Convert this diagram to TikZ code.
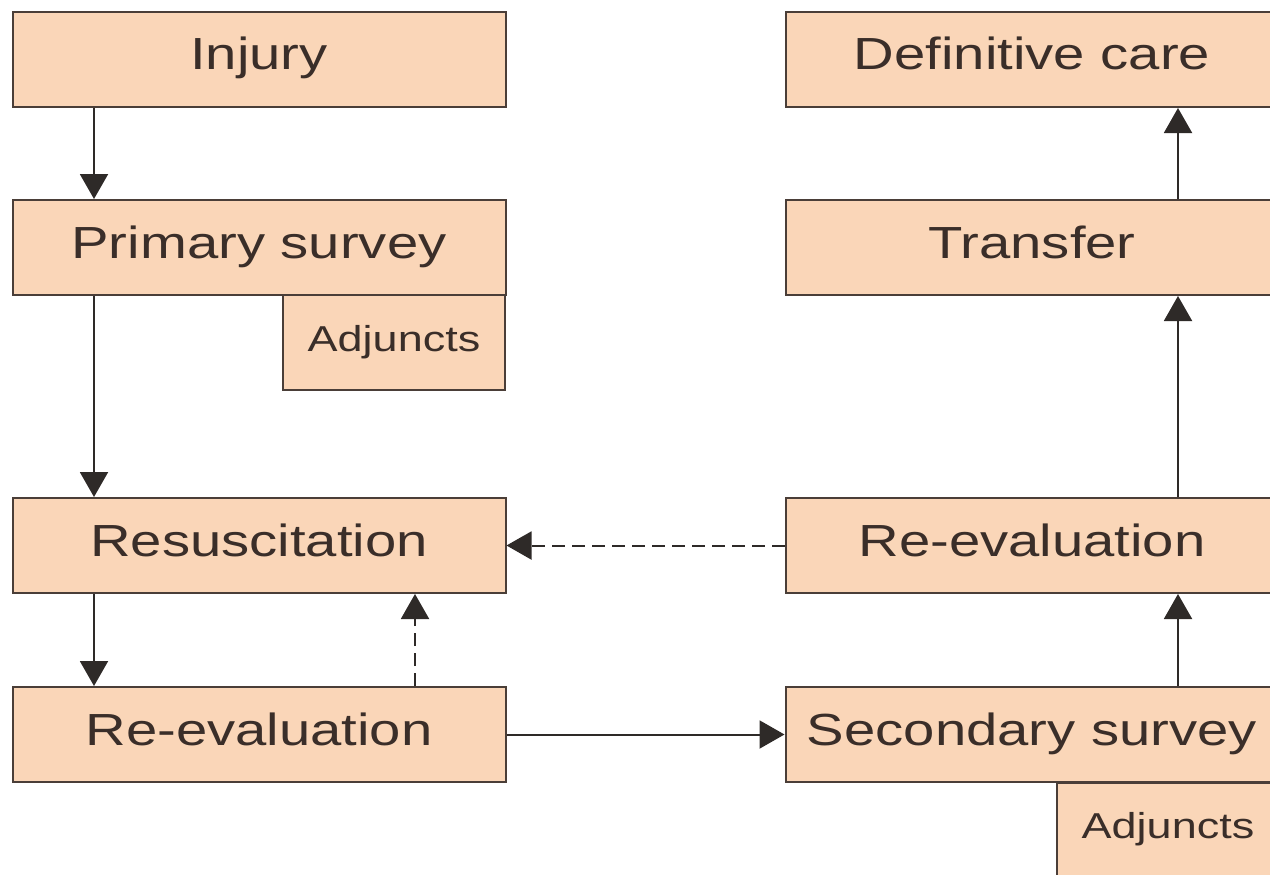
\documentclass[tikz,border=0pt]{standalone}
\usepackage{fontspec}
\setmainfont{Liberation Sans}
\usetikzlibrary{arrows.meta}
\definecolor{boxfill}{HTML}{FAD6B8}
\definecolor{boxline}{HTML}{4A3E38}
\definecolor{arrcol}{HTML}{2E2A28}
\definecolor{txt}{HTML}{3A2E29}
\tikzset{
  stage/.style={draw=boxline, line width=2pt, fill=boxfill, inner sep=0pt,
    minimum width=493pt, minimum height=95pt, text=txt,
    font=\fontsize{45}{50}\selectfont, text height=32pt, text depth=11pt},
  adj/.style={draw=boxline, line width=2pt, fill=boxfill, inner sep=0pt,
    minimum width=222pt, minimum height=95pt, text=txt,
    font=\fontsize{36}{40}\selectfont, text height=26pt, text depth=9pt},
  flow/.style={draw=arrcol, line width=2pt, -{Triangle[width=28pt,length=25pt]}},
  back/.style={flow, dash pattern=on 13pt off 7pt},
}
\newcommand{\wide}[1]{\scalebox{1.25}[1]{#1}}
\begin{document}
\begin{tikzpicture}[x=1pt,y=-1pt]
\useasboundingbox (0,0) rectangle (1270,875);
\clip (0,0) rectangle (1270,875);
% left column
\node[stage] (inj) at (259,59.5) {\wide{Injury}};
\node[adj] (adjL) at (394,342.5) {\wide{Adjuncts}};
\node[stage] (prim) at (259,247.5) {\wide{Primary survey}};
\node[stage] (res) at (259,545.5) {\wide{Resuscitation}};
\node[stage] (revL) at (259,734.5) {\wide{Re-evaluation}};
% right column
\node[stage] (def) at (1032,59.5) {\wide{Definitive care}};
\node[stage] (tra) at (1032,247.5) {\wide{Transfer}};
\node[stage] (revR) at (1032,545.5) {\wide{Re-evaluation}};
\node[adj] (adjR) at (1168,830) {\wide{Adjuncts}};
\node[stage] (sec) at (1032,734.5) {\wide{Secondary survey}};
% connectors
\draw[flow] (inj.south -| 94,0) -- (prim.north -| 94,0);
\draw[flow] (prim.south -| 94,0) -- (res.north -| 94,0);
\draw[flow] (res.south -| 94,0) -- (revL.north -| 94,0);
\draw[back] (revL.north -| 415,0) -- (res.south -| 415,0);
\draw[back] (revR.west) -- (res.east);
\draw[flow] (revL.east) -- (sec.west);
\draw[flow] (sec.north -| 1178,0) -- (revR.south -| 1178,0);
\draw[flow] (revR.north -| 1178,0) -- (tra.south -| 1178,0);
\draw[flow] (tra.north -| 1178,0) -- (def.south -| 1178,0);
\end{tikzpicture}
\end{document}
